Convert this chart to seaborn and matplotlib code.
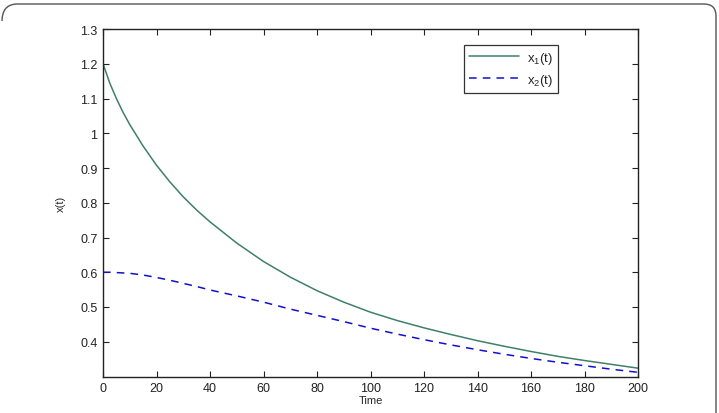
import numpy as np
import pandas as pd
import matplotlib
matplotlib.use("Agg")
import matplotlib.pyplot as plt
import seaborn as sns
from matplotlib.path import Path
from matplotlib.patches import PathPatch

t = [0, 2.5, 5, 7.5, 10, 15, 20, 25, 30, 35, 40, 50, 60, 70, 80, 90, 100, 110, 120, 130, 140, 150, 160, 170, 180, 190, 200]
x1 = [1.2, 1.145, 1.100, 1.060, 1.025, 0.963, 0.908, 0.860, 0.817, 0.779, 0.745, 0.684, 0.631, 0.586, 0.547,
      0.514, 0.485, 0.461, 0.440, 0.421, 0.403, 0.387, 0.372, 0.358, 0.346, 0.335, 0.324]
x2 = [0.600, 0.600, 0.599, 0.598, 0.597, 0.592, 0.585, 0.577, 0.568, 0.559, 0.549, 0.532, 0.514, 0.494, 0.476,
      0.458, 0.439, 0.422, 0.406, 0.391, 0.377, 0.364, 0.352, 0.341, 0.331, 0.321, 0.312]
xticks = [0, 20, 40, 60, 80, 100, 120, 140, 160, 180, 200]
yticks = [0.4, 0.5, 0.6, 0.7, 0.8, 0.9, 1.0, 1.1, 1.2, 1.3]
ytick_labels = ["0.4", "0.5", "0.6", "0.7", "0.8", "0.9", "1", "1.1", "1.2", "1.3"]

sns.set_style("ticks")
plt.rcParams["font.family"] = ["Liberation Sans", "DejaVu Sans"]
plt.rcParams["mathtext.fontset"] = "custom"
plt.rcParams["mathtext.rm"] = "Liberation Sans"

W, H = 719, 414
fig = plt.figure(figsize=(W / 100, H / 100), dpi=100)
ax = fig.add_axes([103 / W, 1 - 377.5 / H, (638 - 103) / W, (377.5 - 30) / H])

df = pd.DataFrame({"t": t, "x1": x1, "x2": x2})
sns.lineplot(data=df, x="t", y="x1", ax=ax, color="#3f8068", lw=1.1, label=r"x$_1$(t)")
sns.lineplot(data=df, x="t", y="x2", ax=ax, color="#1010d0", lw=1.1, linestyle=(0, (5, 4)), label=r"x$_2$(t)")

ax.set_xlim(0, 200)
ax.set_ylim(0.3, 1.3)
ax.set_xticks(xticks)
ax.set_xticklabels([str(v) for v in xticks])
ax.set_yticks(yticks)
ax.set_yticklabels(ytick_labels)
ax.tick_params(direction="in", length=4, width=0.8, labelsize=9, top=True, right=True, pad=4, colors="#222222", labelcolor="#222222")
for s in ax.spines.values():
    s.set_visible(True)
    s.set_linewidth(1.0)
    s.set_color("#222222")
ax.set_xlabel("Time", fontsize=8, labelpad=1)
ax.set_ylabel("x(t)", fontsize=8, labelpad=10)

leg = ax.legend(loc="upper right", bbox_to_anchor=((565 - 103) / 535, (377.5 - 39) / 347.5),
                fontsize=9.5, handlelength=3.8, frameon=True, fancybox=False, borderpad=0.4,
                labelspacing=0.45, handletextpad=0.6)
leg.get_frame().set_edgecolor("black")
leg.get_frame().set_linewidth(0.9)

# outer rounded border (top and right edges)
def fx(px):
    return px / W
def fy(py):
    return 1 - py / H
verts = [(fx(2), fy(22)), (fx(2), fy(6)), (fx(16), fy(5)),
         (fx(704), fy(5)), (fx(716), fy(5)), (fx(716), fy(17)),
         (fx(716), fy(414))]
codes = [Path.MOVETO, Path.CURVE3, Path.CURVE3, Path.LINETO, Path.CURVE3, Path.CURVE3, Path.LINETO]
patch = PathPatch(Path(verts, codes), transform=fig.transFigure, fill=False, edgecolor="#555555", lw=1.0)
fig.patches.append(patch)

fig.savefig("out.png", dpi=100)
